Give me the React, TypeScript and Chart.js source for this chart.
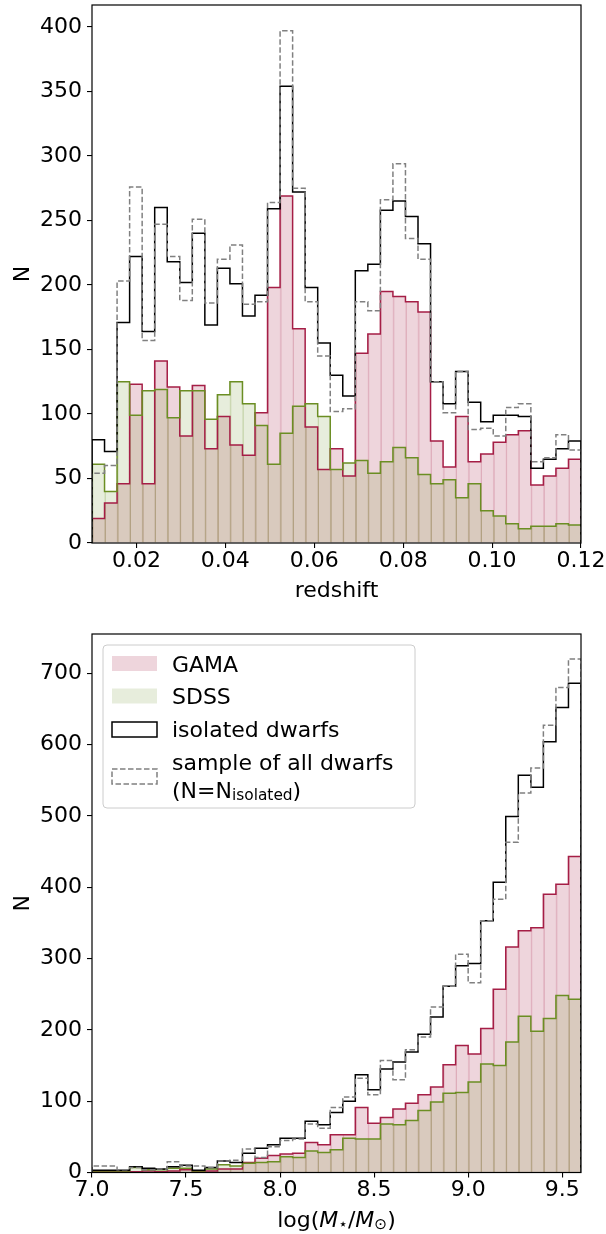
import React, { useEffect, useRef } from 'react';
import { Chart, registerables } from 'chart.js';

Chart.register(...registerables);

const FONT_FAMILY = "'DejaVu Sans', sans-serif";
const FS = 22;

// ---------- bins / axes ----------
const N_BINS = 39;
const REDSHIFT_RANGE = [0.01, 0.12];
const MASS_RANGE = [7.0, 9.6];
const REDSHIFT_TICKS = [0.02, 0.04, 0.06, 0.08, 0.1, 0.12];
const MASS_TICKS = [7.0, 7.5, 8.0, 8.5, 9.0, 9.5];
const COUNT_TICKS_TOP = [0, 50, 100, 150, 200, 250, 300, 350, 400];
const COUNT_TICKS_BOTTOM = [0, 100, 200, 300, 400, 500, 600, 700];
const COUNT_MAX_TOP = 417;
const COUNT_MAX_BOTTOM = 755;

// ---------- redshift histogram (counts per bin) ----------
const Z_GAMA = [19, 31, 46, 123, 46, 141, 121, 83, 122, 73, 98, 76, 68, 101, 198, 269, 166, 90, 57, 73, 52, 147, 162, 195, 191, 187, 179, 79, 59, 98, 63, 69, 78, 84, 87, 45, 52, 58, 65];
const Z_SDSS = [61, 40, 125, 99, 118, 119, 97, 118, 118, 96, 115, 125, 108, 91, 61, 85, 106, 108, 98, 57, 62, 64, 54, 63, 74, 66, 53, 46, 49, 35, 46, 25, 21, 15, 11, 13, 13, 15, 14];
const Z_ISOLATED = [80, 71, 171, 222, 164, 260, 218, 202, 240, 169, 213, 201, 176, 192, 259, 354, 272, 198, 155, 130, 114, 211, 216, 258, 265, 253, 232, 125, 108, 133, 109, 94, 99, 99, 98, 58, 65, 73, 79];
const Z_ALL = [54, 60, 203, 276, 157, 247, 222, 188, 251, 186, 220, 231, 185, 187, 264, 397, 275, 187, 145, 102, 104, 187, 180, 266, 294, 236, 220, 125, 101, 133, 88, 89, 83, 105, 108, 63, 66, 84, 72];

// ---------- stellar mass histogram (counts per bin) ----------
const M_GAMA = [1, 1, 1, 1, 2, 1, 2, 4, 1, 2, 5, 5, 14, 20, 24, 26, 27, 42, 39, 53, 53, 91, 69, 77, 89, 97, 109, 120, 151, 178, 166, 202, 257, 316, 339, 343, 390, 404, 443];
const M_SDSS = [2, 2, 2, 7, 4, 4, 6, 6, 2, 5, 11, 9, 13, 14, 15, 22, 21, 30, 28, 32, 48, 47, 47, 68, 67, 73, 87, 99, 111, 112, 127, 152, 150, 183, 219, 198, 216, 248, 243];
const M_ISOLATED = [3, 3, 3, 8, 6, 5, 8, 10, 3, 7, 16, 14, 27, 34, 39, 48, 48, 72, 67, 84, 100, 137, 116, 145, 155, 169, 194, 218, 261, 290, 293, 353, 407, 499, 557, 540, 604, 652, 686];
const M_ALL = [9, 9, 4, 7, 4, 5, 15, 9, 9, 7, 16, 17, 33, 21, 36, 45, 47, 68, 62, 91, 106, 132, 109, 157, 130, 172, 190, 232, 261, 306, 266, 353, 383, 463, 532, 567, 627, 680, 720];

// ---------- colours ----------
const GAMA_LINE = 'rgb(165,30,70)';
const GAMA_FILL = 'rgba(165,30,70,0.19)';
const GAMA_EDGE = 'rgba(165,30,70,0.28)';
const SDSS_LINE = 'rgb(107,142,35)';
const SDSS_FILL = 'rgba(107,142,35,0.16)';
const SDSS_EDGE = 'rgba(107,142,35,0.30)';
const ISO_LINE = '#000000';
const ALL_LINE = '#808080';

type Run = { t: string; italic?: boolean; sub?: boolean };

function binEdges(range: number[]) {
  const [lo, hi] = range;
  return Array.from({ length: N_BINS + 1 }, (_, i) => lo + ((hi - lo) * i) / N_BINS);
}

function barPoints(values: number[], edges: number[]) {
  return values.map((v, i) => ({ x: (edges[i] + edges[i + 1]) / 2, y: v }));
}

function stepPoints(values: number[], edges: number[]) {
  const pts = [{ x: edges[0], y: 0 }];
  values.forEach((v, i) => pts.push({ x: edges[i], y: v }));
  pts.push({ x: edges[values.length], y: values[values.length - 1] });
  pts.push({ x: edges[values.length], y: 0 });
  return pts;
}

function font(size: number, italic = false) {
  return `${italic ? 'italic ' : ''}${size}px ${FONT_FAMILY}`;
}

function drawRuns(ctx: CanvasRenderingContext2D, runs: Run[], cx: number, baseline: number, size: number, align: 'center' | 'left' = 'center') {
  const subSize = size * 0.7;
  const widths = runs.map((r) => {
    ctx.font = font(r.sub ? subSize : size, r.italic);
    return ctx.measureText(r.t).width;
  });
  const total = widths.reduce((a, b) => a + b, 0);
  let x = align === 'center' ? cx - total / 2 : cx;
  ctx.textAlign = 'left';
  ctx.textBaseline = 'alphabetic';
  runs.forEach((r, i) => {
    ctx.font = font(r.sub ? subSize : size, r.italic);
    ctx.fillText(r.t, x, baseline + (r.sub ? size * 0.13 : 0));
    x += widths[i];
  });
}

const framePlugin = {
  id: 'frame',
  afterDatasetsDraw(chart: any) {
    const { ctx, chartArea: a } = chart;
    ctx.save();
    ctx.strokeStyle = '#000';
    ctx.lineWidth = 1.2;
    ctx.strokeRect(a.left, a.top, a.right - a.left, a.bottom - a.top);
    ctx.restore();
  },
};

function titlePlugin(xTitle: Run[], legend: boolean) {
  return {
    id: 'titles',
    afterDraw(chart: any) {
      const { ctx, chartArea: a } = chart;
      ctx.save();
      ctx.fillStyle = '#000';
      // y title
      ctx.save();
      ctx.translate(29, (a.top + a.bottom) / 2);
      ctx.rotate(-Math.PI / 2);
      ctx.font = font(FS);
      ctx.textAlign = 'center';
      ctx.textBaseline = 'alphabetic';
      ctx.fillText('N', 0, 0);
      ctx.restore();
      // x title
      drawRuns(ctx, xTitle, (a.left + a.right) / 2, a.bottom + 54, FS);

      if (legend) {
        const off = chart.canvas.offsetTop || 617;
        const y = (v: number) => v - off;
        // frame
        const bx = 103, by = y(645), bw = 312, bh = 163, r = 4;
        ctx.beginPath();
        ctx.moveTo(bx + r, by);
        ctx.lineTo(bx + bw - r, by);
        ctx.quadraticCurveTo(bx + bw, by, bx + bw, by + r);
        ctx.lineTo(bx + bw, by + bh - r);
        ctx.quadraticCurveTo(bx + bw, by + bh, bx + bw - r, by + bh);
        ctx.lineTo(bx + r, by + bh);
        ctx.quadraticCurveTo(bx, by + bh, bx, by + bh - r);
        ctx.lineTo(bx, by + r);
        ctx.quadraticCurveTo(bx, by, bx + r, by);
        ctx.closePath();
        ctx.fillStyle = 'rgba(255,255,255,0.8)';
        ctx.fill();
        ctx.strokeStyle = '#cccccc';
        ctx.lineWidth = 1;
        ctx.stroke();

        const hx = 112, hw = 45, hh = 15;
        // GAMA
        ctx.fillStyle = GAMA_FILL;
        ctx.fillRect(hx, y(656), hw, hh);
        // SDSS
        ctx.fillStyle = SDSS_FILL;
        ctx.fillRect(hx, y(688.5), hw, hh);
        // isolated
        ctx.fillStyle = '#fff';
        ctx.fillRect(hx, y(722), hw, hh);
        ctx.strokeStyle = ISO_LINE;
        ctx.lineWidth = 1.5;
        ctx.strokeRect(hx, y(722), hw, hh);
        // all dwarfs (dashed)
        ctx.strokeStyle = ALL_LINE;
        ctx.setLineDash([5.5, 2.5]);
        ctx.strokeRect(hx, y(769), hw, hh);
        ctx.setLineDash([]);

        ctx.fillStyle = '#000';
        const tx = 172;
        drawRuns(ctx, [{ t: 'GAMA' }], tx, y(671.5), FS, 'left');
        drawRuns(ctx, [{ t: 'SDSS' }], tx, y(704), FS, 'left');
        drawRuns(ctx, [{ t: 'isolated dwarfs' }], tx, y(737), FS, 'left');
        drawRuns(ctx, [{ t: 'sample of all dwarfs' }], tx, y(770), FS, 'left');
        drawRuns(ctx, [{ t: '(N=N' }, { t: 'isolated', sub: true }, { t: ')' }], tx, y(797.5), FS, 'left');
      }
      ctx.restore();
    },
  };
}

function buildConfig(p: {
  edges: number[];
  gama: number[];
  sdss: number[];
  iso: number[];
  all: number[];
  xRange: number[];
  xTicks: number[];
  xDigits: number;
  yMax: number;
  yTicks: number[];
  padTop: number;
  xAxisH: number;
  xTitle: Run[];
  legend: boolean;
}): any {
  const lineCommon = { type: 'line', stepped: 'before', fill: false, pointRadius: 0, pointHoverRadius: 0, tension: 0, borderWidth: 1.5 };
  const barCommon = { type: 'bar', grouped: false, barPercentage: 1, categoryPercentage: 1, borderWidth: { left: 1, right: 0, top: 0, bottom: 0 }, borderSkipped: 'start' };
  const tickFont = { family: FONT_FAMILY, size: FS };
  const gridCommon = { display: true, drawOnChartArea: false, drawTicks: true, tickLength: 5, color: '#000', lineWidth: 1.1, offset: false };
  return {
    type: 'bar',
    data: {
      datasets: [
        { ...lineCommon, label: 'sample of all dwarfs', data: stepPoints(p.all, p.edges), borderColor: ALL_LINE, borderDash: [5.5, 2.5], order: 0 },
        { ...lineCommon, label: 'isolated dwarfs', data: stepPoints(p.iso, p.edges), borderColor: ISO_LINE, order: 1 },
        { ...lineCommon, label: 'SDSS outline', data: stepPoints(p.sdss, p.edges), borderColor: SDSS_LINE, order: 2 },
        { ...lineCommon, label: 'GAMA outline', data: stepPoints(p.gama, p.edges), borderColor: GAMA_LINE, order: 3 },
        { ...barCommon, label: 'SDSS', data: barPoints(p.sdss, p.edges), backgroundColor: SDSS_FILL, borderColor: SDSS_EDGE, order: 4 },
        { ...barCommon, label: 'GAMA', data: barPoints(p.gama, p.edges), backgroundColor: GAMA_FILL, borderColor: GAMA_EDGE, order: 5 },
      ],
    },
    options: {
      responsive: false,
      animation: false,
      devicePixelRatio: 1,
      events: [],
      layout: { padding: { top: p.padTop, right: 25, bottom: 0, left: 0 } },
      plugins: { legend: { display: false }, tooltip: { enabled: false } },
      scales: {
        x: {
          type: 'linear',
          min: p.xRange[0],
          max: p.xRange[1],
          offset: false,
          grid: gridCommon,
          border: { display: false },
          ticks: {
            font: tickFont,
            color: '#000',
            padding: 0,
            autoSkip: false,
            maxRotation: 0,
            minRotation: 0,
            callback: (v: any) => Number(v).toFixed(p.xDigits),
          },
          afterBuildTicks: (s: any) => {
            s.ticks = p.xTicks.map((v) => ({ value: v }));
          },
          afterFit: (s: any) => {
            s.height = p.xAxisH;
            s.paddingLeft = 0;
            s.paddingRight = 0;
          },
        },
        y: {
          type: 'linear',
          min: 0,
          max: p.yMax,
          grid: gridCommon,
          border: { display: false },
          ticks: { font: tickFont, color: '#000', padding: 5 },
          afterBuildTicks: (s: any) => {
            s.ticks = p.yTicks.map((v) => ({ value: v }));
          },
          afterFit: (s: any) => {
            s.width = 92;
            s.paddingTop = 0;
            s.paddingBottom = 0;
          },
        },
      },
    },
    plugins: [framePlugin, titlePlugin(p.xTitle, p.legend)],
  };
}

export default function App() {
  const topRef = useRef<HTMLCanvasElement>(null);
  const botRef = useRef<HTMLCanvasElement>(null);

  useEffect(() => {
    const top = new Chart(
      topRef.current as HTMLCanvasElement,
      buildConfig({
        edges: binEdges(REDSHIFT_RANGE),
        gama: Z_GAMA,
        sdss: Z_SDSS,
        iso: Z_ISOLATED,
        all: Z_ALL,
        xRange: REDSHIFT_RANGE,
        xTicks: REDSHIFT_TICKS,
        xDigits: 2,
        yMax: COUNT_MAX_TOP,
        yTicks: COUNT_TICKS_TOP,
        padTop: 5,
        xAxisH: 74,
        xTitle: [{ t: 'redshift' }],
        legend: false,
      })
    );
    const bottom = new Chart(
      botRef.current as HTMLCanvasElement,
      buildConfig({
        edges: binEdges(MASS_RANGE),
        gama: M_GAMA,
        sdss: M_SDSS,
        iso: M_ISOLATED,
        all: M_ALL,
        xRange: MASS_RANGE,
        xTicks: MASS_TICKS,
        xDigits: 1,
        yMax: COUNT_MAX_BOTTOM,
        yTicks: COUNT_TICKS_BOTTOM,
        padTop: 17,
        xAxisH: 61.5,
        xTitle: [
          { t: 'log(' },
          { t: 'M', italic: true },
          { t: '\u22C6', sub: true },
          { t: '/' },
          { t: 'M', italic: true },
          { t: '\u2299', sub: true },
          { t: ')' },
        ],
        legend: true,
      })
    );
    return () => {
      top.destroy();
      bottom.destroy();
    };
  }, []);

  return (
    <div style={{ position: 'absolute', left: 0, top: 0, width: 606, height: 1234, background: '#fff' }}>
      <canvas ref={topRef} width={606} height={617} style={{ position: 'absolute', left: 0, top: 0, width: 606, height: 617 }} />
      <canvas ref={botRef} width={606} height={617} style={{ position: 'absolute', left: 0, top: 617, width: 606, height: 617 }} />
    </div>
  );
}
